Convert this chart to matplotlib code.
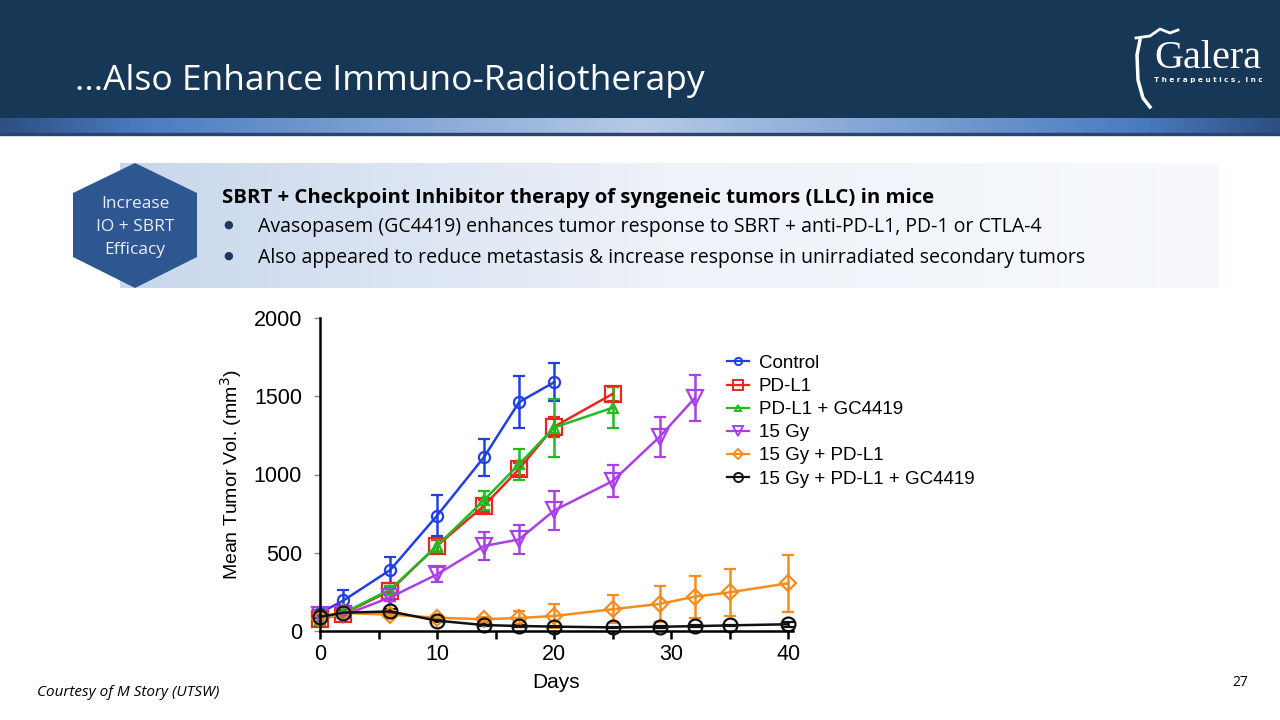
import numpy as np
import matplotlib.pyplot as plt
from matplotlib.patches import Polygon, Rectangle
from matplotlib.lines import Line2D
from matplotlib.colors import LinearSegmentedColormap

# tumor volume data (mm3)
days_ctrl = [0, 2, 6, 10, 14, 17, 20]
days_pd = [0, 2, 6, 10, 14, 17, 20, 25]
days_gy = [0, 2, 6, 10, 14, 17, 20, 25, 29, 32]
days_long = [0, 2, 6, 10, 14, 17, 20, 25, 29, 32, 35, 40]

ctrl = [115, 195, 390, 737, 1110, 1462, 1590]
ctrl_err = [20, 70, 85, 130, 120, 165, 120]

pdl1 = [75, 110, 258, 545, 800, 1035, 1305, 1515]
pdl1_err = [15, 20, 25, 35, 40, 40, 65, 45]

pdl1_gc = [70, 115, 265, 545, 835, 1065, 1300, 1427]
pdl1_gc_err = [15, 20, 25, 45, 60, 100, 185, 133]

gy = [105, 100, 215, 362, 543, 585, 770, 958, 1240, 1487]
gy_err = [15, 20, 25, 50, 90, 90, 125, 100, 130, 147]

gy_pd = [75, 115, 105, 85, 75, 83, 96, 139, 173, 219, 247, 305]
gy_pd_err = [15, 20, 15, 15, 15, 45, 74, 91, 115, 134, 149, 181]

gy_pd_gc = [90, 117, 125, 66, 38, 32, 28, 23, 27, 31, 36, 43]
gy_pd_gc_err = [10, 15, 15, 10, 8, 6, 5, 5, 5, 5, 5, 15]

labels = ['Control', 'PD-L1', 'PD-L1 + GC4419', '15 Gy', '15 Gy + PD-L1', '15 Gy + PD-L1 + GC4419']
colors = ['#2040E0', '#E8281E', '#22BB22', '#A840E6', '#F58C1E', '#111111']
markers = ['o', 's', '^', 'v', 'D', 'o']
msizes = [8, 11, 7, 11, 8, 10]

series = [(days_ctrl, ctrl, ctrl_err), (days_pd, pdl1, pdl1_err), (days_pd, pdl1_gc, pdl1_gc_err),
          (days_gy, gy, gy_err), (days_long, gy_pd, gy_pd_err), (days_long, gy_pd_gc, gy_pd_gc_err)]

fig = plt.figure(figsize=(12.8, 7.2), dpi=100)

# slide background drawn in pixel coords
bg = fig.add_axes([0, 0, 1, 1])
bg.set_xlim(0, 1280)
bg.set_ylim(720, 0)
bg.axis('off')

bg.add_patch(Rectangle((0, 0), 1280, 118, color='#173756', zorder=1))
strip = LinearSegmentedColormap.from_list('strip', [(0, '#2F4F84'), (0.11, '#4A7CC2'), (0.5, '#B6CAE6'),
                                                    (0.89, '#4A7CC2'), (1, '#2F4F84')])
bg.imshow(np.linspace(0, 1, 256).reshape(1, -1), cmap=strip, extent=[0, 1280, 133, 118], aspect='auto', zorder=1)
bg.add_patch(Rectangle((0, 133), 1280, 2, color='#2A4470', zorder=2))

bg.text(75, 90, '...Also Enhance Immuno-Radiotherapy', color='white', fontsize=25.5, family='Open Sans', zorder=3)

# logo
bg.plot([1140, 1137, 1138, 1143, 1150], [40, 55, 80, 98, 107], color='white', lw=2.5, zorder=3)
bg.plot([1136, 1150, 1160, 1170, 1178], [38, 36, 29, 33, 30], color='white', lw=2, zorder=3)
bg.text(1154, 68, 'Galera', color='white', fontsize=29, family='Liberation Serif', zorder=3)
bg.text(1154, 82, 'T h e r a p e u t i c s ,  I n c', color='white', fontsize=5.2, fontweight='bold',
        family='DejaVu Sans', zorder=3)

# info box
box = LinearSegmentedColormap.from_list('box', ['#C7D7EC', '#EEF2F9', '#F7F9FC'])
bg.imshow(np.linspace(0, 1, 256).reshape(1, -1), cmap=box, extent=[120, 1219, 288, 163], aspect='auto', zorder=1)
hexv = [(135, 163), (197, 193), (197, 257), (135, 288), (73, 257), (73, 193)]
bg.add_patch(Polygon(hexv, closed=True, facecolor='#2E5690', edgecolor='none', zorder=2))
bg.text(135, 227, 'Increase\nIO + SBRT\nEfficacy', color='#E8EEF7', fontsize=12.5, family='Open Sans',
        ha='center', va='center', linespacing=1.55, zorder=3)
bg.text(222, 203, 'SBRT + Checkpoint Inhibitor therapy of syngeneic tumors (LLC) in mice', fontsize=14.65,
        fontweight='bold', family='Open Sans', color='black', zorder=3)
bullets = ['Avasopasem (GC4419) enhances tumor response to SBRT + anti-PD-L1, PD-1 or CTLA-4',
           'Also appeared to reduce metastasis & increase response in unirradiated secondary tumors']
for i, b in enumerate(bullets):
    y = 232 + i * 31
    bg.text(228, y - 7, '\u25cf', fontsize=8, color='#1F3864', ha='center', va='center', zorder=3)
    bg.text(258, y, b, fontsize=14.05, family='Open Sans', color='black', zorder=3)

bg.text(37, 696, 'Courtesy of M Story (UTSW)', fontsize=11, style='italic', family='Open Sans', zorder=3)
bg.text(1248, 686, '27', fontsize=10, family='Open Sans', ha='right', zorder=3)

# chart
ax = fig.add_axes([0.25, 1 - 631 / 720, 0.3695, 313 / 720])
for (d, v, e), lab, c, m, ms in zip(series, labels, colors, markers, msizes):
    ax.errorbar(d, v, yerr=e, color=c, marker=m, ms=ms, mfc='none', mec=c, mew=1.6, lw=1.8,
                capsize=4, capthick=1.8, elinewidth=1.8, label=lab, clip_on=False)

ax.set_xlim(0, 40.4)
ax.set_ylim(0, 2000)
ax.set_xticks([0, 10, 20, 30, 40])
ax.set_xticks([5, 15, 25, 35], minor=True)
ax.set_yticks([0, 500, 1000, 1500, 2000])
for s in ['top', 'right']:
    ax.spines[s].set_visible(False)
for s in ['left', 'bottom']:
    ax.spines[s].set_linewidth(1.8)
ax.tick_params(axis='x', which='both', direction='out', length=6, width=1.8, labelsize=15.5, pad=3)
ax.tick_params(axis='y', direction='out', length=4, width=1, color='#888888', labelsize=15.5, pad=9)
for t in ax.get_xticklabels() + ax.get_yticklabels():
    t.set_family('Liberation Sans')
ax.set_xlabel('Days', fontsize=15, family='Liberation Sans', labelpad=6)
ax.set_ylabel('Mean Tumor Vol. (mm$^3$)', fontsize=14, family='Liberation Sans', labelpad=7)
ax.patch.set_alpha(0)

handles = [Line2D([], [], color=c, marker=m, ms=ms * 0.65, mfc='none', mec=c, mew=1.4, lw=1.6)
           for c, m, ms in zip(colors, markers, msizes)]
leg = fig.legend(handles, labels, loc='upper left', bbox_to_anchor=(710 / 1280, 1 - 338 / 720), frameon=False,
                 prop={'family': 'Liberation Sans', 'size': 13.5}, handlelength=1.2, handletextpad=0.5,
                 labelspacing=0.32)

fig.savefig('out.png', dpi=100)
